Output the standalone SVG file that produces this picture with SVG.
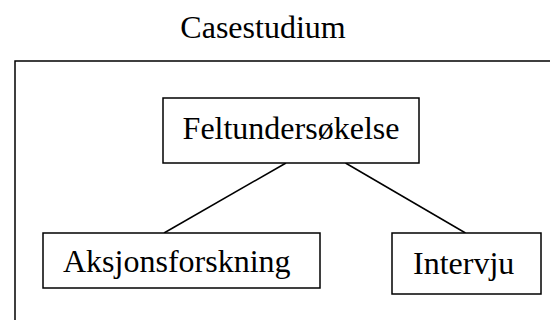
<svg xmlns="http://www.w3.org/2000/svg" width="550" height="320" viewBox="0 0 550 320">
<style>
.box{fill:#fff;stroke:#000;stroke-width:1.5}
.ln{stroke:#000;stroke-width:1.5;fill:none}
text{font-family:"Liberation Serif","Times New Roman",serif;font-size:32px;fill:#000}
</style>
<rect width="550" height="320" fill="#fff"/>
<g id="casestudium">
<text x="263" y="38" text-anchor="middle">Casestudium</text>
<rect class="box" x="15" y="61" width="600" height="400"/>
</g>
<g id="connectors">
<line class="ln" x1="286" y1="163" x2="164" y2="233"/>
<line class="ln" x1="345.5" y1="163" x2="465.5" y2="233"/>
</g>
<g id="feltundersokelse">
<rect class="box" x="163" y="98" width="256" height="65"/>
<text x="291" y="139" text-anchor="middle">Feltundersøkelse</text>
</g>
<g id="aksjonsforskning">
<rect class="box" x="43" y="233" width="277" height="55"/>
<text x="63" y="272">Aksjonsforskning</text>
</g>
<g id="intervju">
<rect class="box" x="392" y="233" width="149" height="61"/>
<text x="413" y="274">Intervju</text>
</g>
</svg>
